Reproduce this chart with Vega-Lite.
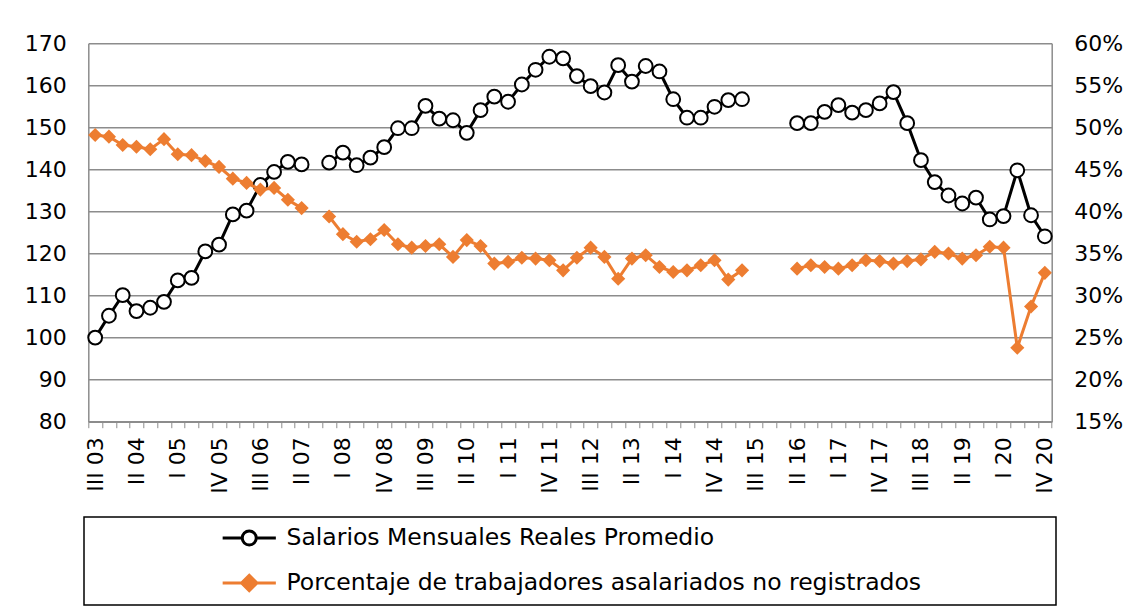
{
  "$schema": "https://vega.github.io/schema/vega-lite/v6.json",
  "autosize": "none",
  "padding": {"left": 88.3, "top": 43.3, "right": 80.3, "bottom": 190.3},
  "width": 963.4,
  "height": 378.4,
  "background": "white",
  "config": {
    "font": "DejaVu Sans",
    "view": {"stroke": null},
    "axis": {"labelFont": "DejaVu Sans", "labelFontSize": 22, "labelColor": "black", "domainColor": "#8c8c8c", "domainWidth": 1.5, "tickColor": "#8c8c8c", "gridColor": "#8c8c8c", "gridWidth": 1.5}
  },
  "data": {"values": [
    {"q": "III 03", "s": 100.0, "p": 49.1},
    {"q": "IV 03", "s": 105.2, "p": 48.9},
    {"q": "I 04", "s": 110.1, "p": 47.9},
    {"q": "II 04", "s": 106.3, "p": 47.7},
    {"q": "III 04", "s": 107.1, "p": 47.4},
    {"q": "IV 04", "s": 108.5, "p": 48.6},
    {"q": "I 05", "s": 113.6, "p": 46.8},
    {"q": "II 05", "s": 114.2, "p": 46.7},
    {"q": "III 05", "s": 120.5, "p": 46.0},
    {"q": "IV 05", "s": 122.1, "p": 45.3},
    {"q": "I 06", "s": 129.3, "p": 43.9},
    {"q": "II 06", "s": 130.2, "p": 43.4},
    {"q": "III 06", "s": 136.3, "p": 42.6},
    {"q": "IV 06", "s": 139.4, "p": 42.8},
    {"q": "I 07", "s": 141.8, "p": 41.4},
    {"q": "II 07", "s": 141.2, "p": 40.4},
    {"q": "III 07", "s": null, "p": null},
    {"q": "IV 07", "s": 141.6, "p": 39.4},
    {"q": "I 08", "s": 144.0, "p": 37.3},
    {"q": "II 08", "s": 141.0, "p": 36.4},
    {"q": "III 08", "s": 142.8, "p": 36.7},
    {"q": "IV 08", "s": 145.3, "p": 37.8},
    {"q": "I 09", "s": 149.8, "p": 36.1},
    {"q": "II 09", "s": 149.8, "p": 35.7},
    {"q": "III 09", "s": 155.1, "p": 35.9},
    {"q": "IV 09", "s": 152.1, "p": 36.1},
    {"q": "I 10", "s": 151.7, "p": 34.6},
    {"q": "II 10", "s": 148.7, "p": 36.6},
    {"q": "III 10", "s": 154.1, "p": 35.9},
    {"q": "IV 10", "s": 157.3, "p": 33.8},
    {"q": "I 11", "s": 156.1, "p": 34.0},
    {"q": "II 11", "s": 160.2, "p": 34.5},
    {"q": "III 11", "s": 163.7, "p": 34.4},
    {"q": "IV 11", "s": 166.8, "p": 34.2},
    {"q": "I 12", "s": 166.4, "p": 33.0},
    {"q": "II 12", "s": 162.2, "p": 34.5},
    {"q": "III 12", "s": 159.8, "p": 35.7},
    {"q": "IV 12", "s": 158.3, "p": 34.6},
    {"q": "I 13", "s": 164.8, "p": 32.0},
    {"q": "II 13", "s": 160.9, "p": 34.4},
    {"q": "III 13", "s": 164.6, "p": 34.8},
    {"q": "IV 13", "s": 163.3, "p": 33.4},
    {"q": "I 14", "s": 156.7, "p": 32.8},
    {"q": "II 14", "s": 152.3, "p": 33.0},
    {"q": "III 14", "s": 152.3, "p": 33.6},
    {"q": "IV 14", "s": 154.9, "p": 34.2},
    {"q": "I 15", "s": 156.5, "p": 31.9},
    {"q": "II 15", "s": 156.7, "p": 33.0},
    {"q": "III 15", "s": null, "p": null},
    {"q": "IV 15", "s": null, "p": null},
    {"q": "I 16", "s": null, "p": null},
    {"q": "II 16", "s": 151.0, "p": 33.2},
    {"q": "III 16", "s": 151.0, "p": 33.6},
    {"q": "IV 16", "s": 153.7, "p": 33.4},
    {"q": "I 17", "s": 155.3, "p": 33.2},
    {"q": "II 17", "s": 153.5, "p": 33.6},
    {"q": "III 17", "s": 154.1, "p": 34.2},
    {"q": "IV 17", "s": 155.7, "p": 34.1},
    {"q": "I 18", "s": 158.4, "p": 33.8},
    {"q": "II 18", "s": 151.0, "p": 34.1},
    {"q": "III 18", "s": 142.2, "p": 34.3},
    {"q": "IV 18", "s": 137.0, "p": 35.2},
    {"q": "I 19", "s": 133.8, "p": 35.0},
    {"q": "II 19", "s": 131.9, "p": 34.4},
    {"q": "III 19", "s": 133.3, "p": 34.8},
    {"q": "IV 19", "s": 128.1, "p": 35.8},
    {"q": "I 20", "s": 128.9, "p": 35.7},
    {"q": "II 20", "s": 139.8, "p": 23.8},
    {"q": "III 20", "s": 129.1, "p": 28.7},
    {"q": "IV 20", "s": 124.1, "p": 32.7}
  ]},
  "encoding": {
    "x": {
      "field": "q", "type": "ordinal", "title": null,
      "scale": {"type": "band", "paddingInner": 0, "paddingOuter": 0,
        "domain": ["III 03","IV 03","I 04","II 04","III 04","IV 04","I 05","II 05","III 05","IV 05","I 06","II 06","III 06","IV 06","I 07","II 07","III 07","IV 07","I 08","II 08","III 08","IV 08","I 09","II 09","III 09","IV 09","I 10","II 10","III 10","IV 10","I 11","II 11","III 11","IV 11","I 12","II 12","III 12","IV 12","I 13","II 13","III 13","IV 13","I 14","II 14","III 14","IV 14","I 15","II 15","III 15","IV 15","I 16","II 16","III 16","IV 16","I 17","II 17","III 17","IV 17","I 18","II 18","III 18","IV 18","I 19","II 19","III 19","IV 19","I 20","II 20","III 20","IV 20"]},
      "axis": {
        "labelAngle": -90, "tickBand": "extent", "tickSize": 6, "labelPadding": 9, "labelOverlap": false, "grid": false, "labelFontSize": 22,
        "labelExpr": "indexof(['III 03','II 04','I 05','IV 05','III 06','II 07','I 08','IV 08','III 09','II 10','I 11','IV 11','III 12','II 13','I 14','IV 14','III 15','II 16','I 17','IV 17','III 18','II 19','I 20','IV 20'], datum.value) >= 0 ? datum.value : ''"
      }
    }
  },
  "layer": [
    {
      "layer": [
        {
          "mark": {"type": "line", "strokeWidth": 3, "invalid": "break-paths-show-domains"},
          "encoding": {
            "y": {"field": "s", "type": "quantitative", "scale": {"domain": [80, 170], "nice": false, "zero": false},
              "axis": {"title": null, "values": [80,90,100,110,120,130,140,150,160,170], "grid": true, "ticks": false, "labelPadding": 22, "domain": true}},
            "color": {"datum": "Salarios Mensuales Reales Promedio", "type": "nominal",
              "scale": {"domain": ["Salarios Mensuales Reales Promedio", "Porcentaje de trabajadores asalariados no registrados"], "range": ["black", "#ED7D31"]},
              "legend": {
                "title": null, "orient": "none", "legendX": -4.3, "legendY": 473.7, "direction": "vertical",
                "strokeColor": "black", "padding": 10, "symbolOffset": 143.5, "symbolSize": 196, "symbolStrokeWidth": 3, "clipHeight": 22,
                "labelFont": "DejaVu Sans", "labelFontSize": 23.5, "labelColor": "black", "labelOffset": 25.5, "rowPadding": 21, "labelLimit": 0,
                "encode": {
                  "legend": {"update": {"strokeWidth": {"value": 1.5}}},
                  "entries": {"update": {"width": {"value": 952}}},
                  "symbols": {"update": {
                    "shape": {"signal": "datum.value === 'Salarios Mensuales Reales Promedio' ? 'M-3.8,0L-1,0M1,0L3.8,0M1,0A1,1,0,1,1,-1,0A1,1,0,1,1,1,0Z' : 'M-3.8,0L-1,0M1,0L3.8,0M0,-1.1L1.1,0L0,1.1L-1.1,0Z'"},
                    "fill": {"signal": "datum.value === 'Salarios Mensuales Reales Promedio' ? 'white' : '#ED7D31'"},
                    "fillOpacity": {"value": 1}
                  }}
                }
              }
            }
          }
        },
        {
          "mark": {"type": "point", "shape": "circle", "filled": true, "fill": "white", "stroke": "black", "strokeWidth": 2, "size": 190, "opacity": 1},
          "encoding": {"y": {"field": "s", "type": "quantitative"}}
        }
      ]
    },
    {
      "layer": [
        {
          "mark": {"type": "line", "strokeWidth": 3, "invalid": "break-paths-show-domains"},
          "encoding": {
            "y": {"field": "p", "type": "quantitative", "scale": {"domain": [15, 60], "nice": false, "zero": false},
              "axis": {"title": null, "orient": "right", "values": [15,20,25,30,35,40,45,50,55,60], "grid": false, "ticks": false, "labelPadding": 22, "labelExpr": "datum.value + '%'"}},
            "color": {"datum": "Porcentaje de trabajadores asalariados no registrados", "type": "nominal"}
          }
        },
        {
          "mark": {"type": "point", "shape": "diamond", "filled": true, "color": "#ED7D31", "size": 200, "opacity": 1},
          "encoding": {"y": {"field": "p", "type": "quantitative"}}
        }
      ]
    }
  ],
  "resolve": {"scale": {"y": "independent"}}
}
